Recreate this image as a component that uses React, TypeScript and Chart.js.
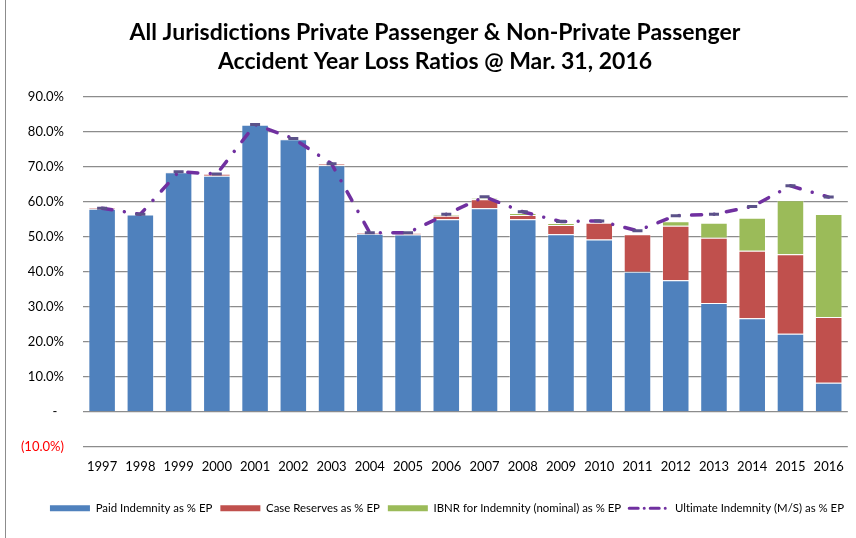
import React, { useEffect, useRef } from "react";
import { Chart, registerables } from "chart.js";

Chart.register(...registerables);

const years = ["1997", "1998", "1999", "2000", "2001", "2002", "2003", "2004", "2005", "2006", "2007", "2008", "2009", "2010", "2011", "2012", "2013", "2014", "2015", "2016"];
const paidIndemnity = [58.0, 56.3, 68.4, 67.4, 81.9, 77.8, 70.4, 50.8, 50.6, 55.0, 58.1, 55.0, 50.7, 49.2, 40.0, 37.6, 31.1, 26.7, 22.3, 8.3];
const caseReserves = [0.2, 0.1, 0.1, 0.5, 0.1, 0.2, 0.4, 0.3, 0.4, 1.0, 2.6, 1.2, 2.6, 4.8, 10.7, 15.5, 18.6, 19.3, 22.7, 18.8];
const ibnrIndemnity = [0, 0, 0, 0, 0, 0, 0, 0, 0, 0.2, 0.3, 0.5, 0.6, 0, 0, 1.3, 4.3, 9.4, 15.4, 29.4];
const ultimateIndemnity = [58.1, 56.4, 68.5, 67.9, 82.0, 78.0, 70.8, 51.1, 51.1, 56.4, 61.4, 57.1, 54.3, 54.5, 51.7, 56.0, 56.4, 58.6, 64.5, 61.3];

const titleLines = ["All Jurisdictions Private Passenger & Non-Private Passenger", "Accident Year Loss Ratios @ Mar. 31, 2016"];
const FONT = "Lato, 'Liberation Sans', sans-serif";
const LINE_DASH = [10, 12.5, 0.01, 12.5];

const noLigatures = {
  id: "noLigatures",
  beforeLayout(chart: any) {
    chart.ctx.letterSpacing = "0.01px";
  },
  beforeDraw(chart: any) {
    chart.ctx.letterSpacing = "0.01px";
  },
};

export default function App() {
  const canvasRef = useRef<HTMLCanvasElement | null>(null);

  useEffect(() => {
    const canvas = canvasRef.current;
    if (!canvas) return;
    const chart = new Chart(canvas, {
      type: "bar",
      plugins: [noLigatures],
      data: {
        labels: years,
        datasets: [
          {
            type: "bar",
            label: "Paid Indemnity as % EP",
            data: paidIndemnity,
            backgroundColor: "#4F81BD",
            borderColor: "rgba(255,255,255,0.35)",
            borderWidth: 1,
            stack: "bars",
            order: 2,
          },
          {
            type: "bar",
            label: "Case Reserves as % EP",
            data: caseReserves,
            backgroundColor: "#C0504D",
            borderColor: "rgba(255,255,255,0.35)",
            borderWidth: 1,
            stack: "bars",
            order: 2,
          },
          {
            type: "bar",
            label: "IBNR for Indemnity (nominal) as % EP",
            data: ibnrIndemnity,
            backgroundColor: "#9BBB59",
            borderColor: "rgba(255,255,255,0.35)",
            borderWidth: 1,
            stack: "bars",
            order: 2,
          },
          {
            type: "line",
            label: "Ultimate Indemnity (M/S) as % EP",
            data: ultimateIndemnity,
            borderColor: "#7030A0",
            backgroundColor: "#7030A0",
            borderWidth: 3.5,
            borderDash: LINE_DASH,
            borderCapStyle: "round",
            tension: 0,
            pointStyle: "line",
            pointRadius: 5,
            pointBorderColor: "#5B5289",
            pointBorderWidth: 3,
            pointHoverRadius: 5,
            stack: "ult",
            order: 1,
          },
        ] as any,
      },
      options: {
        animation: false,
        responsive: false,
        maintainAspectRatio: false,
        layout: { padding: { left: 18, right: 4, top: 0, bottom: 14 } },
        plugins: {
          tooltip: { enabled: false },
          title: {
            display: true,
            text: titleLines,
            color: "#000000",
            font: { family: FONT, size: 23, weight: "bold", lineHeight: 1.26 },
            padding: { top: 18.5, bottom: 20 },
          },
          legend: {
            position: "bottom",
            align: "end",
            labels: {
              usePointStyle: true,
              pointStyleWidth: 40,
              boxWidth: 40,
              boxHeight: 6,
              padding: 8,
              color: "#000000",
              font: { family: FONT, size: 11.4 },
              sort: (a: any, b: any) => a.datasetIndex - b.datasetIndex,
              generateLabels: (ch: any) => {
                const items = Chart.defaults.plugins.legend.labels.generateLabels(ch);
                return items.map((it: any) => {
                  if (it.datasetIndex === 3) {
                    return { ...it, pointStyle: "line", strokeStyle: "#7030A0", fillStyle: "#7030A0", lineWidth: 3, lineDash: [9, 6, 0.01, 6], lineCap: "round" };
                  }
                  return { ...it, pointStyle: "rect", lineWidth: 0, strokeStyle: "rgba(0,0,0,0)", lineDash: [] };
                });
              },
            },
          },
        },
        scales: {
          x: {
            type: "category",
            stacked: true,
            grid: { display: false, drawTicks: false },
            border: { display: false },
            ticks: { color: "#000000", font: { family: FONT, size: 13 }, padding: 12, maxRotation: 0 },
            afterFit: (scale: any) => {
              scale.height += 8;
            },
            categoryPercentage: 1,
            barPercentage: 0.57,
          } as any,
          y: {
            stacked: true,
            min: -10,
            max: 90,
            grid: { color: "#8C8C8C", lineWidth: 1.2, drawTicks: false },
            border: { display: false },
            afterFit: (scale: any) => {
              scale.width = 65;
            },
            ticks: {
              stepSize: 10,
              padding: 19,
              font: { family: FONT, size: 13 },
              color: (ctx: any) => (ctx.tick && ctx.tick.value < 0 ? "#FF0000" : "#000000"),
              callback: (v: any) => {
                const n = Number(v);
                if (Math.abs(n) < 1e-9) return "-  ";
                if (n < 0) return "(" + Math.abs(n).toFixed(1) + "%)";
                return n.toFixed(1) + "%";
              },
            },
          },
        },
      } as any,
    });
    return () => chart.destroy();
  }, []);

  return (
    <div style={{ position: "fixed", left: 0, top: 0, width: 856, height: 538, background: "#FFFFFF" }}>
      <div style={{ position: "absolute", left: 5, top: 0, width: 1, height: 538, background: "#8C8C8C" }} />
      <canvas ref={canvasRef} width={856} height={538} style={{ display: "block", width: 856, height: 538 }} />
    </div>
  );
}
